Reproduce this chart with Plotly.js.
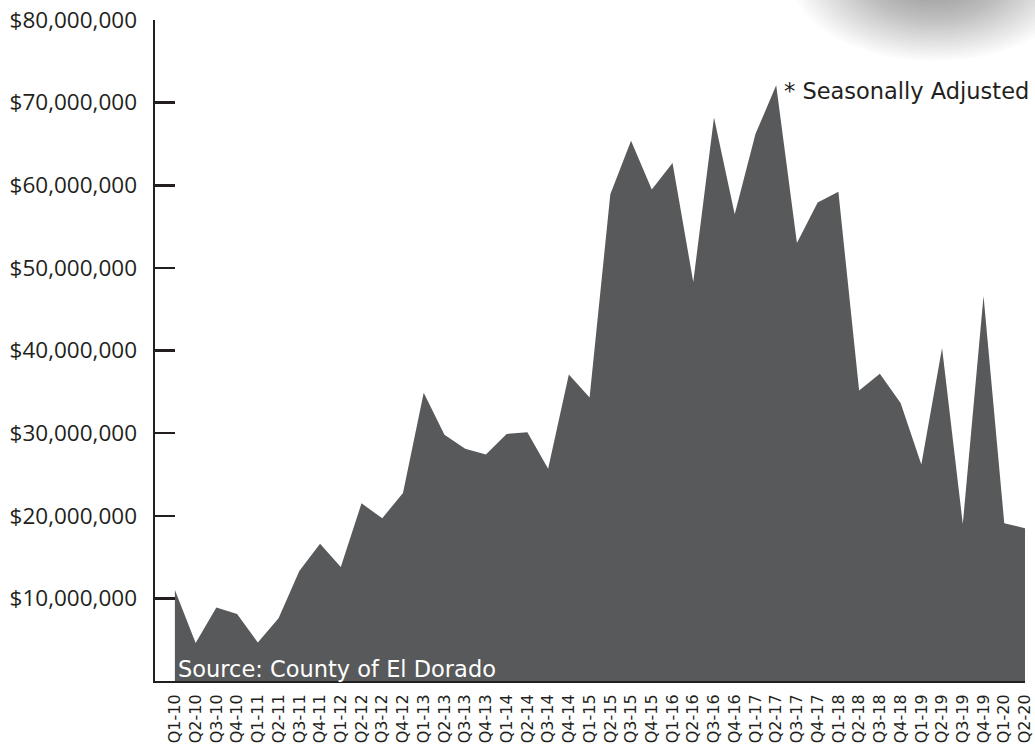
<!DOCTYPE html>
<html>
<head>
<meta charset="utf-8">
<script src="https://cdn.plot.ly/plotly-3.0.1.min.js"></script>
<style>html,body{margin:0;padding:0;background:#fff;}#chart{width:1035px;height:750px;}</style>
</head>
<body>
<div id="chart"></div>
<script>
var quarters = ["Q1-10","Q2-10","Q3-10","Q4-10","Q1-11","Q2-11","Q3-11","Q4-11","Q1-12","Q2-12","Q3-12","Q4-12","Q1-13","Q2-13","Q3-13","Q4-13","Q1-14","Q2-14","Q3-14","Q4-14","Q1-15","Q2-15","Q3-15","Q4-15","Q1-16","Q2-16","Q3-16","Q4-16","Q1-17","Q2-17","Q3-17","Q4-17","Q1-18","Q2-18","Q3-18","Q4-18","Q1-19","Q2-19","Q3-19","Q4-19","Q1-20","Q2-20"];
var values = [11.0,4.6,8.9,8.1,4.65,7.6,13.3,16.6,13.8,21.5,19.7,22.75,34.9,29.8,28.1,27.4,29.9,30.1,25.7,37.1,34.3,58.9,65.4,59.5,62.7,48.3,68.2,56.5,66.2,72.1,53.0,57.9,59.2,35.15,37.2,33.65,26.2,40.3,19.0,46.6,19.1,18.5];
var yTickVals = [10,20,30,40,50,60,70,80];
var yTickText = ["$10,000,000","$20,000,000","$30,000,000","$40,000,000","$50,000,000","$60,000,000","$70,000,000","$80,000,000"];

var idx = quarters.map(function(q,i){return i;});
var yvals = values.map(function(v){return v*1e6;});

var trace = {
  x: idx, y: yvals, type: 'scatter', mode: 'lines',
  fill: 'tozeroy', fillcolor: '#58595b',
  line: {width: 0, color: '#58595b'},
  hoverinfo: 'skip', showlegend: false
};

// decorative soft shadow at top right
var plotW = 1035 - 155 - 10;
var shapes = [];
var cx = (935-155)/plotW, cy = (681+25)/661;
var N = 30;
for (var k = 0; k < N; k++) {
  var f = 1 - k/N;
  var rx = (135*f + 10)/plotW, ry = (80*f + 6)/661;
  shapes.push({type:'circle', xref:'paper', yref:'paper', layer:'below',
    x0: cx-rx, x1: cx+rx, y0: cy-ry, y1: cy+ry,
    fillcolor:'rgba(0,0,0,0.016)', line:{width:0}});
}

var layout = {
  width: 1035, height: 750,
  margin: {l:155, r:10, t:20, b:69},
  paper_bgcolor:'#ffffff', plot_bgcolor:'rgba(0,0,0,0)',
  showlegend:false,
  xaxis: {
    range:[-0.96, 41], tickmode:'array', tickvals: idx, ticktext: quarters,
    tickangle:-90, showgrid:false, zeroline:false, showline:true,
    linecolor:'#231f20', linewidth:2, ticks:'', ticklabelstandoff:5,
    ticklabeloverflow:'allow',
    tickfont:{family:'"DejaVu Sans", sans-serif', size:16, color:'#231f20'}
  },
  yaxis: {
    range:[0, 80e6], tickmode:'array',
    tickvals: yTickVals.map(function(v){return v*1e6;}), ticktext: yTickText,
    showgrid:false, zeroline:false, showline:true, linecolor:'#231f20', linewidth:2.5,
    ticks:'inside', ticklen:20, tickwidth:2.5, tickcolor:'#231f20', ticklabelstandoff:11,
    tickfont:{family:'"Open Sans", sans-serif', size:22.5, color:'#231f20'}
  },
  shapes: shapes,
  annotations: [
    {xref:'paper', yref:'paper', x:(176-155)/plotW, y:0, xanchor:'left', yanchor:'bottom', yshift:-3,
     text:'Source: County of El Dorado', showarrow:false,
     font:{family:'"DejaVu Sans", sans-serif', size:22.5, color:'#ffffff'}},
    {xref:'paper', yref:'paper', x:(782-155)/plotW, y:(681-91)/661, xanchor:'left', yanchor:'middle',
     text:'* Seasonally Adjusted', showarrow:false,
     font:{family:'"DejaVu Sans", sans-serif', size:22.5, color:'#231f20'}}
  ]
};

Plotly.newPlot('chart', [trace], layout, {displayModeBar:false, staticPlot:true});
</script>
</body>
</html>
